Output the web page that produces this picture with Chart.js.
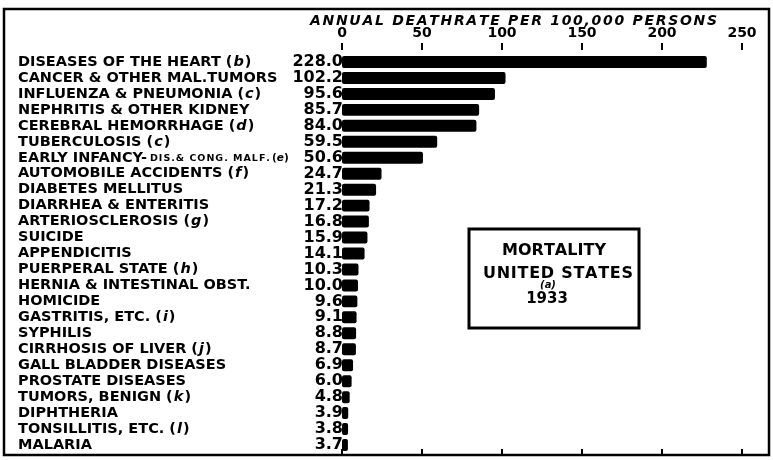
<!DOCTYPE html>
<html>
<head>
<meta charset="utf-8">
<script src="https://cdn.jsdelivr.net/npm/chart.js@4.4.0/dist/chart.umd.min.js"></script>
<style>
    body { margin: 0; background: #fff; }
    #wrap { width: 773px; height: 460px; }
</style>
</head>
<body>
<div id="wrap"><canvas id="chart" width="773" height="460"></canvas></div>
<script>
// Data
const causes = [
    'DISEASES OF THE HEART (b)',
    'CANCER & OTHER MAL.TUMORS',
    'INFLUENZA & PNEUMONIA (c)',
    'NEPHRITIS & OTHER KIDNEY',
    'CEREBRAL HEMORRHAGE (d)',
    'TUBERCULOSIS (c)',
    'EARLY INFANCY-DIS.& CONG. MALF.(e)',
    'AUTOMOBILE ACCIDENTS (f)',
    'DIABETES MELLITUS',
    'DIARRHEA & ENTERITIS',
    'ARTERIOSCLEROSIS (g)',
    'SUICIDE',
    'APPENDICITIS',
    'PUERPERAL STATE (h)',
    'HERNIA & INTESTINAL OBST.',
    'HOMICIDE',
    'GASTRITIS, ETC. (i)',
    'SYPHILIS',
    'CIRRHOSIS OF LIVER (j)',
    'GALL BLADDER DISEASES',
    'PROSTATE DISEASES',
    'TUMORS, BENIGN (k)',
    'DIPHTHERIA',
    'TONSILLITIS, ETC. (l)',
    'MALARIA'
];
const deathRates = [228.0, 102.2, 95.6, 85.7, 84.0, 59.5, 50.6, 24.7, 21.3, 17.2, 16.8, 15.9, 14.1,
    10.3, 10.0, 9.6, 9.1, 8.8, 8.7, 6.9, 6.0, 4.8, 3.9, 3.8, 3.7];
const axisTicks = [0, 50, 100, 150, 200, 250];
const axisTitle = 'ANNUAL DEATHRATE PER 100,000 PERSONS';
const boxLines = ['MORTALITY', 'UNITED STATES', '1933'];

const INK = '#000';
const FONT = '"DejaVu Sans", sans-serif';

// draw text spread out to a given width
function spacedText(ctx, text, x, y, width) {
    const chars = text.split('');
    const plain = chars.reduce((s, c) => s + ctx.measureText(c).width, 0);
    const gap = (width - plain) / (chars.length - 1);
    let cx = x;
    chars.forEach(c => {
        ctx.fillText(c, cx, y);
        cx += ctx.measureText(c).width + gap;
    });
}

// label with an italic footnote letter, and small text after a dash
function drawLabel(ctx, label, x, y) {
    let main = label, note = null;
    const m = label.match(/\s*\(([a-z])\)$/);
    if (m) {
        main = label.slice(0, m.index);
        note = m[1];
    }
    let small = null;
    const dash = main.indexOf('-');
    if (dash > 0) {
        small = main.slice(dash + 1);
        main = main.slice(0, dash + 1);
    }
    ctx.font = 'bold 14.5px ' + FONT;
    ctx.fillText(main, x, y);
    x += ctx.measureText(main).width;
    if (small) {
        ctx.font = 'bold 9.5px ' + FONT;
        spacedText(ctx, small, x + 3, y + 1, 120);
        x += 125;
        ctx.font = 'bold 10.5px ' + FONT;
        ctx.fillText('(', x, y + 1);
        x += ctx.measureText('(').width;
        ctx.font = 'italic bold 10.5px ' + FONT;
        ctx.fillText(note, x, y + 1);
        x += ctx.measureText(note).width;
        ctx.font = 'bold 10.5px ' + FONT;
        ctx.fillText(')', x, y + 1);
        return;
    }
    if (note) {
        ctx.font = 'bold 14.5px ' + FONT;
        x += 5;
        ctx.fillText('(', x, y);
        x += ctx.measureText('(').width + 1;
        ctx.font = 'italic bold 14.5px ' + FONT;
        ctx.fillText(note, x, y);
        x += ctx.measureText(note).width + 1;
        ctx.font = 'bold 14.5px ' + FONT;
        ctx.fillText(')', x, y);
    }
}

const decorations = {
    id: 'decorations',
    afterDraw(chart) {
        const ctx = chart.ctx;
        const xs = chart.scales.x;
        const ys = chart.scales.y;
        const area = chart.chartArea;
        ctx.save();
        ctx.fillStyle = INK;
        ctx.strokeStyle = INK;

        // outer frame
        ctx.lineWidth = 2.5;
        ctx.strokeRect(4, 9, 765, 446);

        // axis title
        ctx.font = 'italic bold 14px ' + FONT;
        ctx.textBaseline = 'middle';
        ctx.textAlign = 'left';
        spacedText(ctx, axisTitle, 310, 21, 407);

        // tick marks, top and bottom
        ctx.lineWidth = 2;
        axisTicks.forEach(v => {
            const px = xs.getPixelForValue(v);
            ctx.beginPath();
            ctx.moveTo(px, 43);
            ctx.lineTo(px, 50);
            ctx.moveTo(px, 449);
            ctx.lineTo(px, 455);
            ctx.stroke();
        });

        // category labels and values
        causes.forEach((label, i) => {
            const py = ys.getPixelForValue(i);
            ctx.textAlign = 'left';
            ctx.textBaseline = 'middle';
            drawLabel(ctx, label, 18, py);
            ctx.textAlign = 'right';
            ctx.font = 'bold 16px ' + FONT;
            ctx.fillText(deathRates[i].toFixed(1), area.left + 1, py);
        });

        // legend box
        ctx.lineWidth = 3;
        ctx.strokeRect(469, 229, 170, 99);
        ctx.textAlign = 'left';
        ctx.textBaseline = 'middle';
        ctx.font = 'bold 16px ' + FONT;
        spacedText(ctx, boxLines[0], 502, 251, 104);
        spacedText(ctx, boxLines[1], 483, 274, 150);
        ctx.textAlign = 'center';
        ctx.font = 'bold 15px ' + FONT;
        ctx.fillText(boxLines[2], 547, 299);
        ctx.font = 'italic bold 10px ' + FONT;
        ctx.fillText('(a)', 548, 285);
        ctx.restore();
    }
};

new Chart(document.getElementById('chart'), {
    type: 'bar',
    data: {
        labels: causes,
        datasets: [{
            data: deathRates,
            backgroundColor: INK,
            borderRadius: 2,
            borderSkipped: false,
            barPercentage: 0.75,
            categoryPercentage: 1.0
        }]
    },
    options: {
        indexAxis: 'y',
        responsive: false,
        devicePixelRatio: 1,
        animation: false,
        layout: {
            padding: { left: 342, right: 31, top: 0, bottom: 7 }
        },
        plugins: {
            legend: { display: false },
            tooltip: { enabled: false }
        },
        scales: {
            x: {
                position: 'top',
                min: 0,
                max: 250,
                afterFit: scale => { scale.height = 54; },
                afterBuildTicks: scale => {
                    scale.ticks = axisTicks.map(v => ({ value: v }));
                },
                ticks: {
                    color: INK,
                    padding: 12,
                    font: { family: FONT, size: 14, weight: 'bold' }
                },
                grid: { display: false, drawTicks: false },
                border: { display: false }
            },
            y: {
                display: false
            }
        }
    },
    plugins: [decorations]
});
</script>
</body>
</html>
